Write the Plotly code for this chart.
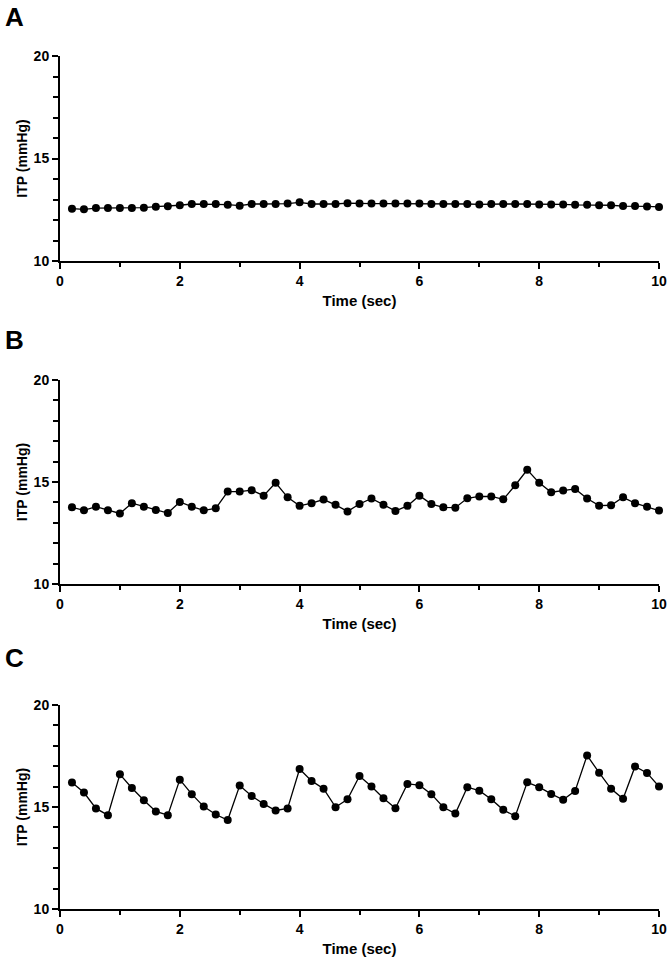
import plotly.graph_objects as go

time_sec = [round(0.2 * i, 1) for i in range(1, 51)]

itp_a = [12.55, 12.52, 12.58, 12.58, 12.58, 12.58, 12.60, 12.65, 12.67, 12.72,
         12.78, 12.78, 12.78, 12.75, 12.70, 12.78, 12.78, 12.78, 12.80, 12.86,
         12.78, 12.78, 12.78, 12.82, 12.80, 12.80, 12.80, 12.80, 12.80, 12.80,
         12.78, 12.78, 12.78, 12.78, 12.76, 12.78, 12.78, 12.78, 12.78, 12.76,
         12.76, 12.76, 12.74, 12.74, 12.72, 12.72, 12.68, 12.68, 12.66, 12.64]

itp_b = [13.76, 13.61, 13.79, 13.61, 13.46, 13.96, 13.79, 13.63, 13.48, 14.02,
         13.79, 13.61, 13.71, 14.53, 14.53, 14.60, 14.33, 14.96, 14.25, 13.83,
         13.96, 14.14, 13.88, 13.56, 13.92, 14.19, 13.88, 13.58, 13.83, 14.33,
         13.92, 13.76, 13.74, 14.20, 14.29, 14.29, 14.15, 14.84, 15.60, 14.96,
         14.50, 14.58, 14.66, 14.19, 13.84, 13.86, 14.25, 13.96, 13.79, 13.60]

itp_c = [16.20, 15.71, 14.93, 14.60, 16.60, 15.93, 15.33, 14.78, 14.60, 16.34,
         15.63, 15.02, 14.63, 14.36, 16.05, 15.54, 15.15, 14.83, 14.93, 16.86,
         16.28, 15.90, 14.99, 15.38, 16.52, 16.00, 15.43, 14.94, 16.13, 16.07,
         15.63, 14.99, 14.68, 15.97, 15.80, 15.38, 14.86, 14.55, 16.21, 15.97,
         15.64, 15.35, 15.79, 17.53, 16.68, 15.89, 15.40, 16.99, 16.67, 16.00]

panel_labels = ["A", "B", "C"]
x_ticks = [0, 2, 4, 6, 8, 10]
y_ticks = [10, 15, 20]
x_title = "Time (sec)"
y_title = "ITP (mmHg)"

W, H = 670, 959
x_left, x_right = 60, 659
panels_px = [(56, 261), (380, 584), (705, 909)]  # top, bottom of plot area

font_family = "Liberation Sans, Arial, sans-serif"

fig = go.Figure()
series = [itp_a, itp_b, itp_c]
layout = {}
for i, (vals, (top, bot)) in enumerate(zip(series, panels_px)):
    n = "" if i == 0 else str(i + 1)
    fig.add_trace(go.Scatter(
        x=time_sec, y=vals, mode="lines+markers",
        xaxis="x" + n, yaxis="y" + n,
        line=dict(color="black", width=1.3),
        marker=dict(color="black", size=8),
        showlegend=False, cliponaxis=False,
    ))
    layout["xaxis" + n] = dict(
        domain=[x_left / W, x_right / W], anchor="y" + n,
        range=[0, 10], tickvals=x_ticks, ticks="outside", ticklen=6, tickwidth=2,
        tickcolor="black", showline=True, linewidth=2, linecolor="black",
        showgrid=False, zeroline=False, automargin=False,
        minor=dict(dtick=1, tick0=0, ticks="outside", ticklen=4, tickwidth=2,
                   tickcolor="black", showgrid=False),
        tickfont=dict(family=font_family, size=14, color="black", weight="bold"),
        title=dict(text=x_title, standoff=8,
                   font=dict(family=font_family, size=15, color="black", weight="bold")),
    )
    layout["yaxis" + n] = dict(
        domain=[1 - bot / H, 1 - top / H], anchor="x" + n,
        range=[10, 20], tickvals=y_ticks, ticks="outside", ticklen=6, tickwidth=2,
        tickcolor="black", showline=True, linewidth=2, linecolor="black",
        showgrid=False, zeroline=False, automargin=False,
        minor=dict(dtick=1, tick0=10, ticks="outside", ticklen=5, tickwidth=2,
                   tickcolor="black", showgrid=False),
        tickfont=dict(family=font_family, size=14, color="black", weight="bold"),
        title=dict(text=y_title, standoff=3,
                   font=dict(family=font_family, size=14, color="black", weight="bold")),
    )

annotations = []
letter_y = [17, 340, 658]
for lab, ly in zip(panel_labels, letter_y):
    annotations.append(dict(
        text=lab, x=3 / W, y=1 - ly / H, xref="paper", yref="paper",
        xanchor="left", yanchor="middle", showarrow=False,
        font=dict(family=font_family, size=26, color="black", weight="bold"),
    ))

fig.update_layout(
    width=W, height=H,
    margin=dict(l=0, r=0, t=0, b=0),
    paper_bgcolor="white", plot_bgcolor="white",
    annotations=annotations,
    **layout,
)

fig.write_html("out.html")
